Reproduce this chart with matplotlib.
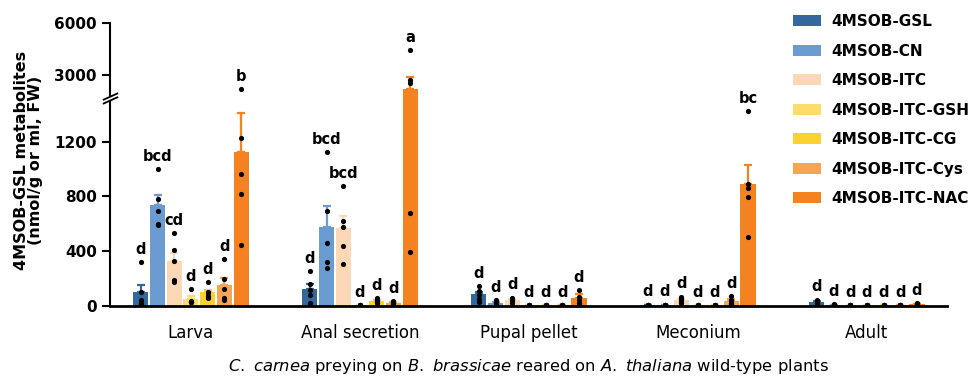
import matplotlib
matplotlib.use('Agg')
import matplotlib.pyplot as plt
import numpy as np
from matplotlib.path import Path

groups = ['Larva', 'Anal secretion', 'Pupal pellet', 'Meconium', 'Adult']
series = ['4MSOB-GSL', '4MSOB-CN', '4MSOB-ITC', '4MSOB-ITC-GSH',
          '4MSOB-ITC-CG', '4MSOB-ITC-Cys', '4MSOB-ITC-NAC']
colors = ['#33689e', '#6a9cd2', '#fdd8b6', '#fddc6c', '#fdd131', '#f7a555', '#f58220']

# means and SEM per group (nmol/g or ml, FW)
gsl_mean = [98, 120, 83, 5, 29]
gsl_sem = [53, 36, 15, 2, 8]
cn_mean = [734, 573, 22, 5, 6]
cn_sem = [76, 159, 8, 2, 2]
itc_mean = [325, 566, 42, 42, 4]
itc_sem = [58, 90, 8, 10, 1]
gsh_mean = [47, 3, 3, 3, 3]
gsh_sem = [24, 1, 1, 1, 1]
cg_mean = [98, 35, 3, 3, 3]
cg_sem = [17, 8, 1, 1, 1]
cys_mean = [151, 22, 3, 37, 4]
cys_sem = [54, 6, 1, 10, 1]
nac_mean = [1127, 2156, 54, 894, 10]
nac_sem = [280, 731, 29, 135, 3]

# individual replicates
gsl_pts = [[317, 102, 40, 20, 10], [254, 156, 115, 78, 22], [144, 110, 80, 50, 30],
           [8, 6, 5, 4, 3], [45, 35, 25, 20, 15]]
cn_pts = [[1000, 783, 695, 600, 590], [1124, 690, 456, 320, 275], [42, 29, 20, 12, 5],
          [7, 6, 5, 4, 3], [10, 8, 6, 4, 2]]
itc_pts = [[530, 410, 330, 185, 170], [876, 620, 578, 437, 303], [59, 50, 42, 37, 22],
           [66, 50, 42, 30, 20], [6, 5, 4, 3, 2]]
gsh_pts = [[120, 35, 30, 25, 25], [5, 4, 3, 2, 1], [5, 4, 3, 2, 1],
           [5, 4, 3, 2, 1], [5, 4, 3, 2, 1]]
cg_pts = [[171, 102, 90, 70, 57], [54, 42, 35, 25, 19], [5, 4, 3, 2, 1],
          [5, 4, 3, 2, 1], [5, 4, 3, 2, 1]]
cys_pts = [[342, 193, 120, 55, 45], [34, 28, 22, 15, 11], [5, 4, 3, 2, 1],
           [71, 42, 35, 22, 15], [6, 5, 4, 3, 2]]
nac_pts = [[2156, 1229, 961, 817, 444], [4437, 2696, 2504, 680, 391], [115, 66, 42, 18, 5],
           [1424, 890, 860, 795, 502], [18, 12, 10, 6, 4]]

# significance letters
gsl_let = ['d', 'd', 'd', 'd', 'd']
cn_let = ['bcd', 'bcd', 'd', 'd', 'd']
itc_let = ['cd', 'bcd', 'd', 'd', 'd']
gsh_let = ['d', 'd', 'd', 'd', 'd']
cg_let = ['d', 'd', 'd', 'd', 'd']
cys_let = ['d', 'd', 'd', 'd', 'd']
nac_let = ['b', 'a', 'd', 'bc', 'd']

means = [gsl_mean, cn_mean, itc_mean, gsh_mean, cg_mean, cys_mean, nac_mean]
sems = [gsl_sem, cn_sem, itc_sem, gsh_sem, cg_sem, cys_sem, nac_sem]
points = [gsl_pts, cn_pts, itc_pts, gsh_pts, cg_pts, cys_pts, nac_pts]
letters = [gsl_let, cn_let, itc_let, gsh_let, cg_let, cys_let, nac_let]

# broken y axis: linear up to 1500, compressed above
BREAK = 1500
K = 0.126


def fwd(v):
    v = np.asarray(v, dtype=float)
    return np.where(v <= BREAK, v, BREAK + (v - BREAK) * K)


def inv(u):
    u = np.asarray(u, dtype=float)
    return np.where(u <= BREAK, u, BREAK + (u - BREAK) / K)


fig = plt.figure(figsize=(9.69, 3.77), dpi=100)
ax = fig.add_axes([110/969, 71.3/377, 837/969, 282.4/377])
ax.set_yscale('function', functions=(fwd, inv))

x = np.arange(len(groups))
pitch = 0.0988
width = 0.089

for i, name in enumerate(series):
    xs = x + (i - 3) * pitch
    ax.bar(xs, means[i], width, color=colors[i], label=name, zorder=2)
    ax.errorbar(xs, means[i], yerr=[np.zeros(len(groups)), sems[i]], fmt='none',
                ecolor=colors[i], elinewidth=1.6, capsize=3, capthick=1.6, zorder=1.5)
    for g in range(len(groups)):
        pts = points[i][g]
        ax.scatter([xs[g]] * len(pts), pts, s=14, color='black', zorder=4, linewidths=0)
        top = max(max(pts), means[i][g] + sems[i][g])
        ax.annotate(letters[i][g], (xs[g], top), xytext=(0, 6), textcoords='offset points',
                    ha='center', va='baseline', fontsize=10.5, fontweight='bold')

ax.set_xlim(-0.479, 4.474)
ax.set_ylim(0, 6000)
ax.set_yticks([0, 400, 800, 1200, 3000, 6000])
ax.set_xticks(x)
ax.set_xticklabels(groups, fontsize=12)
ax.tick_params(axis='x', length=0, pad=13)
ax.tick_params(axis='y', length=6, width=1.5, labelsize=11)
for lab in ax.get_yticklabels():
    lab.set_fontweight('bold')

ax.spines['top'].set_visible(False)
ax.spines['right'].set_visible(False)
ax.spines['left'].set_linewidth(1.5)
ax.spines['bottom'].set_linewidth(2)

# axis break mark
brk = Path([(-1, -0.2), (1, 0.7), (-1, -0.7), (1, 0.2)],
           [Path.MOVETO, Path.LINETO, Path.MOVETO, Path.LINETO])
ax.plot([0], [1650], marker='s', markersize=3, color='white', markeredgewidth=0,
        transform=ax.get_yaxis_transform(), clip_on=False, zorder=5)
ax.plot([0], [1650], marker=brk, markersize=11, markerfacecolor='none',
        markeredgecolor='black', markeredgewidth=1.3,
        transform=ax.get_yaxis_transform(), clip_on=False, zorder=6)

fig.text(28.5/969, 1 - 160/377, '4MSOB-GSL metabolites\n(nmol/g or ml, FW)',
         rotation=90, ha='center', va='center', fontsize=11.5, fontweight='bold',
         linespacing=0.95, multialignment='center')

fig.text(528/969, 1 - 367/377,
         r'$\it{C.}$ $\it{carnea}$ preying on $\it{B.}$ $\it{brassicae}$ reared on '
         r'$\it{A.}$ $\it{thaliana}$ wild-type plants',
         ha='center', va='center', fontsize=11.8)

ax.legend(loc='upper left', bbox_to_anchor=(793/969, 1 - 14/377), bbox_transform=fig.transFigure,
          frameon=False, borderpad=0, borderaxespad=0, handlelength=1.8, handleheight=0.7,
          handletextpad=0.7, labelspacing=0.95, prop={'size': 11, 'weight': 'bold'})

fig.savefig('out.png', dpi=100)
